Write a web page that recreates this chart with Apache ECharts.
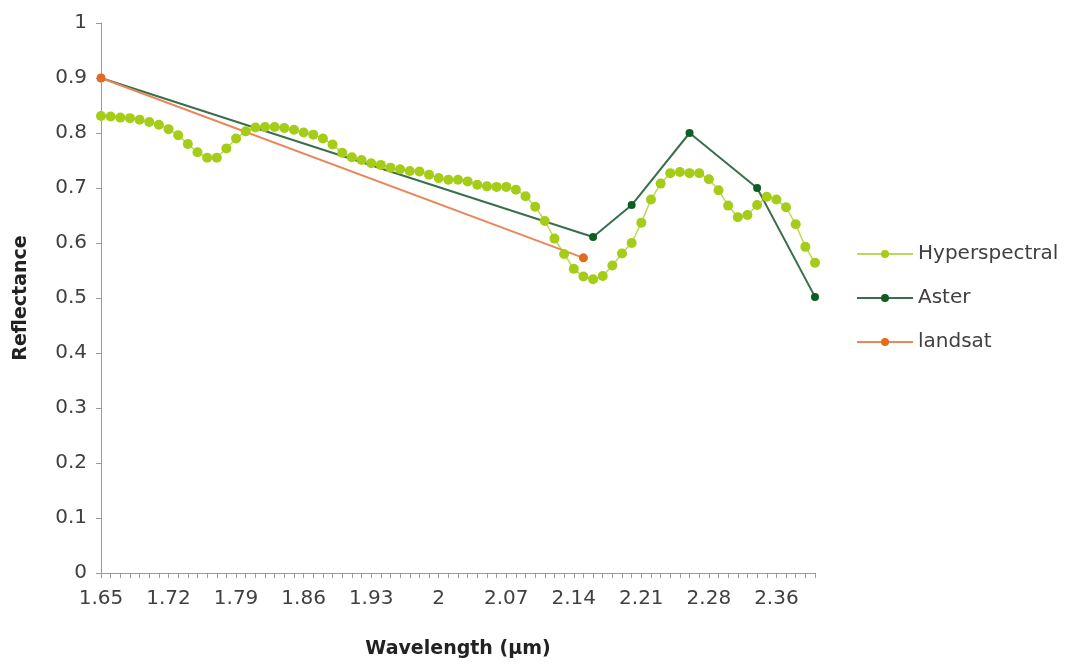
<!DOCTYPE html>
<html>
<head>
<meta charset="utf-8">
<script src="https://cdn.jsdelivr.net/npm/echarts@6/dist/echarts.min.js"></script>
<style>
html,body{margin:0;padding:0;background:#fff;}
#chart{width:1080px;height:671px;}
</style>
</head>
<body>
<div id="chart"></div>
<script>
// wavelength categories (um)
var wavelengths = [
	1.65,1.66,1.67,1.68,1.69,1.7,1.71,1.72,1.73,1.74,
	1.75,1.76,1.77,1.78,1.79,1.8,1.81,1.82,1.83,1.84,
	1.85,1.86,1.87,1.88,1.89,1.9,1.91,1.92,1.93,1.94,
	1.95,1.96,1.97,1.98,1.99,2,2.01,2.02,2.03,2.04,
	2.05,2.06,2.07,2.08,2.09,2.1,2.11,2.12,2.13,2.14,
	2.15,2.16,2.17,2.18,2.19,2.2,2.21,2.22,2.23,2.24,
	2.25,2.26,2.27,2.28,2.29,2.3,2.31,2.32,2.34,2.35,
	2.36,2.37,2.38,2.39,2.4
];
// hyperspectral reflectance
var hyperVals = [
	0.831,0.830,0.828,0.827,0.824,0.820,0.815,0.807,0.796,0.780,
	0.765,0.755,0.755,0.772,0.790,0.803,0.810,0.811,0.811,0.809,
	0.806,0.801,0.797,0.790,0.779,0.764,0.756,0.751,0.745,0.742,
	0.737,0.734,0.731,0.730,0.724,0.718,0.715,0.715,0.712,0.706,
	0.703,0.702,0.702,0.697,0.685,0.666,0.640,0.608,0.580,0.553,
	0.539,0.534,0.540,0.559,0.581,0.600,0.637,0.679,0.708,0.727,
	0.729,0.727,0.727,0.716,0.696,0.668,0.647,0.651,0.669,0.684,
	0.679,0.665,0.634,0.593,0.564
];
// Aster bands
var asterWl = [1.65, 2.16, 2.2, 2.26, 2.34, 2.4];
var asterVals = [0.90, 0.611, 0.669, 0.80, 0.70, 0.502];
// landsat bands
var landsatWl = [1.65, 2.15];
var landsatVals = [0.90, 0.573];

var cats = wavelengths.map(function(w){ return String(w); });
function pairs(wl, vals){
	var out = [];
	for(var i=0;i<wl.length;i++){
		out.push([String(wl[i]), vals[i]]);
	}
	return out;
}

var chart = echarts.init(document.getElementById("chart"));
var font = "DejaVu Sans";
var option = {
	animation:false,
	textStyle:{fontFamily:font},
	grid:{left:101,right:265,top:23,bottom:98},
	legend:{
		orient:'vertical',
		left:851,
		top:239,
		itemWidth:56,
		itemHeight:10,
		itemGap:24,
		textStyle:{fontSize:20,color:'#404040',fontFamily:font},
		data:['Hyperspectral','Aster','landsat']
	},
	xAxis:{
		type:'category',
		data:cats,
		boundaryGap:false,
		name:'Wavelength (µm)',
		nameLocation:'middle',
		nameGap:67,
		nameTextStyle:{fontSize:19,fontWeight:'bold',color:'#222'},
		axisLine:{lineStyle:{color:'#9a9a9a',width:1}},
		axisTick:{show:true,interval:0,length:5,lineStyle:{color:'#9a9a9a'}},
		axisLabel:{interval:6,fontSize:20,color:'#404040',margin:16}
	},
	yAxis:{
		type:'value',
		min:0,
		max:1,
		interval:0.1,
		name:'Reflectance',
		nameLocation:'middle',
		nameGap:70,
		nameTextStyle:{fontSize:19,fontWeight:'bold',color:'#222'},
		splitLine:{show:false},
		axisLine:{show:true,lineStyle:{color:'#9a9a9a',width:1}},
		axisTick:{show:true,length:5,lineStyle:{color:'#9a9a9a'}},
		axisLabel:{fontSize:20,color:'#404040',margin:14}
	},
	series:[
		{
			name:'Hyperspectral',
			type:'line',
			data:hyperVals,
			symbol:'circle',
			symbolSize:10,
			showAllSymbol:true,
			itemStyle:{color:'#a5cc16'},
			lineStyle:{color:'#bcd85a',width:1.5}
		},
		{
			name:'Aster',
			type:'line',
			data:pairs(asterWl, asterVals),
			symbol:'circle',
			symbolSize:8,
			showAllSymbol:true,
			itemStyle:{color:'#0d5e22'},
			lineStyle:{color:'#3a6e4c',width:2}
		},
		{
			name:'landsat',
			type:'line',
			data:pairs(landsatWl, landsatVals),
			symbol:'circle',
			symbolSize:9,
			showAllSymbol:true,
			itemStyle:{color:'#e46a1e'},
			lineStyle:{color:'#e9875a',width:2}
		}
	]
};
chart.setOption(option);
</script>
</body>
</html>
